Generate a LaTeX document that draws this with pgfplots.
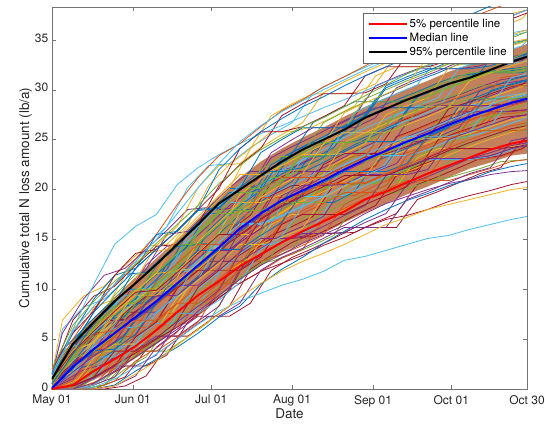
\documentclass[border=0pt]{standalone}
\usepackage{fontspec}
\setmainfont{TeX Gyre Heros}
\usepackage{pgfplots}
\pgfplotsset{compat=1.18}
\usepackage{pgfplotstable}

\definecolor{m1}{rgb}{0,0.447,0.741}
\definecolor{m2}{rgb}{0.85,0.325,0.098}
\definecolor{m3}{rgb}{0.929,0.694,0.125}
\definecolor{m4}{rgb}{0.494,0.184,0.556}
\definecolor{m5}{rgb}{0.466,0.674,0.188}
\definecolor{m6}{rgb}{0.301,0.745,0.933}
\definecolor{m7}{rgb}{0.635,0.078,0.184}
\definecolor{bandin}{rgb}{0.76,0.50,0.36}

% each row is one simulated run; columns are days after May 01
% rows dayL and dayR hold the sampling days used for the second set of runs
\pgfplotstableread{
name 0 8 16 24 32 40 48 56 64 72 80 88 96 104 112 120 128 136 144 152 160 168 176 182
dayL 0 4 12 20 28 36 44 52 60 68 76 84 92 100 108 116 124 132 140 148 156 164 172 182
dayR 0 12 20 28 36 44 52 60 68 76 84 92 100 108 116 124 132 140 148 156 164 172 180 182
l1 0.1 2.5 5.5 7.3 9.1 12.4 14.3 14.5 16.4 18.4 19.9 23.2 24.3 25.3 26.4 27.4 30.4 31.3 32.1 32.1 32.1 32.4 33.1 33.6
l2 0 0.8 3.6 5.2 5.3 6.8 10.2 12.0 13.8 17.7 19.2 19.2 19.5 20.5 20.5 20.6 21.5 22.4 25.2 26.1 26.9 27.6 27.6 27.9
l3 1.0 6.0 8.2 9.0 10.9 14.4 16.3 20.2 22.4 22.6 24.2 25.5 26.7 29.7 30.8 31.8 32.7 33.6 33.6 34.1 34.1 34.8 35.5 36.0
l4 0 0 0.4 1.2 3.9 5.3 5.3 6.8 8.3 12.0 13.4 14.7 15.6 15.6 15.7 16.7 17.6 20.5 21.3 22.2 23.1 23.7 24.4 24.7
l5 0.5 3.4 5.3 5.7 7.3 10.6 12.4 14.3 18.1 20.1 20.1 21.0 22.1 23.1 24.2 27.2 28.1 29.0 29.8 30.7 31.4 31.7 32.0 32.3
l6 0 0.3 1.0 3.6 5.1 6.6 6.6 8.2 11.7 13.6 15.0 18.3 19.3 19.3 19.4 20.4 21.3 22.2 23.0 23.0 23.0 23.3 24.0 24.6
l7 1.5 6.9 9.3 10.3 12.4 14.3 14.5 16.5 20.4 22.5 24.1 27.4 28.6 29.6 29.6 29.7 30.6 33.5 34.3 35.2 35.8 36.7 37.4 38.0
l8 0.1 1.9 2.5 3.9 6.9 8.5 12.0 13.9 13.9 15.8 17.3 18.6 21.7 22.7 23.8 24.8 24.8 24.8 25.3 26.2 29.0 29.8 30.5 30.9
l9 0 0 0 0.8 2.8 4.1 5.7 9.0 10.6 10.6 11.8 13.1 14.0 17.0 18.1 19.1 20.0 20.9 20.9 20.9 21.5 22.1 22.8 23.0
l10 1.0 3.8 4.7 7.9 9.8 11.6 11.8 13.7 15.6 19.5 21.1 22.4 23.5 23.5 23.6 24.6 27.5 28.4 29.2 32.2 32.8 33.7 34.4 34.9
l11 0.1 2.7 4.5 6.1 7.7 7.7 9.4 11.1 12.8 12.8 14.1 15.4 16.3 17.3 20.5 21.5 22.4 25.3 26.1 27.0 27.8 27.8 27.8 28.0
l12 0.5 3.2 6.3 8.3 8.7 10.4 12.2 15.9 17.9 18.0 19.5 20.8 23.9 24.9 26.0 29.1 30.0 30.9 31.7 32.6 32.6 32.9 33.1 33.8
l13 0 1.6 3.2 3.2 4.5 7.6 9.3 11.0 14.6 16.5 16.5 17.3 18.3 19.3 22.4 23.4 23.4 23.4 24.0 24.9 25.7 26.4 29.1 29.5
l14 0 0.3 1.1 2.3 5.2 6.7 10.1 11.9 11.9 13.7 17.1 18.4 19.4 22.5 23.6 23.6 23.6 24.3 25.1 28.1 28.8 29.6 30.3 30.7
l15 1.5 5.6 9.0 11.4 12.1 14.0 15.9 18.0 18.2 20.2 21.8 21.8 22.2 23.2 26.3 27.3 28.2 28.2 28.2 28.8 29.5 30.3 31.0 31.4
l16 0 0 0.4 2.5 3.8 3.8 5.2 6.7 10.1 11.9 13.3 16.6 17.6 18.6 19.7 19.7 19.7 20.4 21.2 24.2 25.0 25.7 26.4 26.7
l17 0.1 3.9 4.6 7.6 9.4 9.4 11.2 14.8 16.7 18.7 18.7 19.5 20.5 21.5 24.7 25.7 26.6 27.5 28.3 28.3 28.3 28.6 29.3 29.7
l18 0 0 1.1 2.3 2.3 3.4 6.7 8.3 9.9 13.7 15.1 15.1 15.3 16.3 17.4 18.4 21.4 22.3 23.1 23.1 23.1 23.4 24.1 24.4
l19 1.0 3.9 6.0 9.4 11.5 11.7 13.6 15.6 17.6 17.6 19.2 22.5 23.6 26.7 27.8 28.8 28.8 28.8 29.3 30.2 30.9 31.7 34.5 35.0
l20 1.5 6.0 10.5 14.5 16.3 17.5 20.5 22.2 23.5 24.6 25.6 26.4 27.3 28.2 29.0 29.9 30.8 31.6 32.4 33.3 34.0 34.8 35.4 35.8
l21 0 0.3 1.2 2.4 3.6 5.0 6.2 7.6 9.2 10.6 11.8 12.6 13.4 14.4 15.2 16.2 17.0 17.4 18.0 18.8 19.4 19.9 20.5 20.8
l22 0 0 0 0.4 1.8 3.0 4.2 5.6 7.2 8.3 10.5 12.0 13.2 14.6 15.8 17.0 18.0 18.9 19.6 20.4 21.0 21.8 22.3 22.6
l23 1.2 5.0 8.0 10.5 13.0 15.5 18.5 21.2 23.4 24.6 26.3 27.9 29.0 30.3 31.3 32.4 33.5 34.4 35.6 36.5 37.2 38.0 38.8 39.5
l24 0 0.3 3.1 4.5 4.5 5.8 9.2 10.9 12.6 14.5 14.5 15.2 16.1 19.2 20.3 21.3 24.2 25.1 25.1 25.1 25.6 26.3 27.0 27.3
l25 0.1 1.0 3.8 6.8 7.0 8.6 10.4 10.4 12.1 15.9 17.4 20.7 21.8 21.8 21.8 22.8 23.7 26.7 27.5 28.4 28.4 28.4 28.5 28.9
l26 0.5 4.7 6.8 7.4 9.2 12.5 14.4 14.6 16.5 18.5 22.0 23.3 23.3 23.4 24.5 25.5 26.4 29.3 30.1 31.0 31.7 31.7 31.7 31.9
l27 0 0 0.2 1.0 2.2 3.5 5.0 6.5 7.8 8.8 9.6 10.4 11.0 11.8 12.9 13.3 13.9 14.5 15.1 15.4 16.0 16.5 17.0 17.3
l28 2.0 5.6 7.8 11.4 13.6 14.0 15.9 18.0 20.1 24.1 25.8 25.8 26.3 27.3 28.4 31.4 32.3 32.3 32.3 32.9 33.5 36.4 37.1 37.7
l29 0.1 2.0 3.8 4.0 5.5 8.6 10.4 12.2 14.0 14.0 15.4 16.7 19.7 20.7 21.8 21.8 21.8 22.6 25.4 26.3 27.1 29.9 30.6 31.0
l30 0 0 0.4 2.0 3.2 6.1 7.8 9.4 11.0 12.8 12.8 13.5 14.4 15.4 18.5 19.5 20.4 23.4 24.2 25.1 25.9 25.9 25.9 26.0
l31 0.5 1.8 4.8 6.6 9.9 10.1 11.9 12.0 13.8 17.7 19.2 20.5 21.6 24.6 25.7 25.7 25.7 26.5 27.3 28.2 30.9 31.7 32.4 32.9
l32 0 0 0 0.3 1.3 4.2 5.8 7.3 7.3 8.6 11.9 13.2 14.1 15.1 16.2 16.2 16.2 19.0 19.8 20.7 21.6 22.2 24.9 25.2
l33 1.0 3.0 6.1 8.1 10.0 10.0 12.0 15.7 17.7 19.7 19.7 20.6 23.7 24.7 24.7 24.8 25.7 26.6 29.4 30.3 31.0 31.8 31.8 32.1
l34 0 1.7 4.5 6.1 6.2 7.7 9.4 12.9 14.7 16.6 16.6 17.4 18.4 21.4 22.5 23.5 24.4 25.3 25.3 25.3 25.8 28.5 29.2 29.6
l35 0 0.3 1.2 3.8 3.8 5.1 6.8 10.2 11.9 11.9 13.2 16.5 17.5 17.5 17.5 18.5 19.4 20.3 23.2 24.1 24.1 24.1 24.2 24.5
l36 1.5 4.4 7.7 9.9 12.0 15.5 15.8 17.9 18.1 20.1 23.7 25.0 26.2 26.2 26.2 27.2 30.2 31.1 31.9 32.8 32.8 32.8 32.9 33.4
l37 0.1 3.6 5.5 5.9 7.5 10.8 12.6 14.5 14.5 16.4 19.9 21.2 21.2 21.2 22.3 23.3 26.3 27.2 28.0 28.9 29.6 30.4 30.4 30.4
l38 1.0 3.8 5.9 7.9 9.8 11.6 15.2 17.3 19.4 21.5 21.5 22.4 23.5 24.5 27.7 28.7 29.6 30.5 33.3 34.2 34.8 34.8 34.8 35.1
l39 0 1.7 3.3 4.7 7.7 9.3 9.4 11.1 12.8 14.7 16.1 19.4 20.4 20.4 20.5 21.5 21.5 21.5 22.0 25.0 25.8 26.5 27.2 27.5
l40 0.5 3.1 3.8 5.4 8.6 10.3 10.4 12.2 15.9 17.9 17.9 18.7 18.7 18.7 19.8 22.8 23.7 24.6 25.4 28.4 29.1 29.1 29.1 29.3
l41 0 0 0.4 1.8 4.5 5.9 7.6 7.6 8.9 10.7 14.0 15.3 18.3 19.3 20.4 21.4 22.3 25.2 26.0 26.9 27.7 28.4 31.2 31.6
l42 1.0 3.7 5.8 7.8 9.7 9.9 11.7 13.6 15.5 15.5 17.0 18.3 19.3 20.3 21.4 21.4 21.4 22.2 23.0 23.9 24.7 25.4 26.1 26.4
l43 0.5 3.5 6.6 8.6 12.1 14.0 15.9 18.0 22.0 24.1 25.8 27.1 28.3 29.3 30.4 31.4 32.3 33.2 34.0 36.9 37.5 38.4 39.1 39.8
l44 0 0.3 2.5 5.3 6.9 6.9 8.6 8.6 10.1 13.9 17.3 18.6 19.6 20.6 20.6 20.7 21.6 22.5 23.3 24.2 27.0 27.7 28.4 28.8
l45 0 0 0 0.3 1.5 2.8 4.4 6.0 7.5 9.2 10.6 11.8 12.8 13.6 14.5 15.5 16.5 17.2 18.0 18.5 19.0 19.5 20.0 20.2
l46 0 0 0.6 1.8 3.2 4.6 6.0 7.8 9.4 11.0 12.4 13.5 14.6 15.5 16.4 17.6 18.6 19.3 20.0 20.6 21.0 21.5 21.8 21.9
l47 2.0 6.4 8.8 10.8 12.5 14.6 16.5 18.4 20.6 22.4 24.0 25.2 26.3 27.2 28.3 29.4 30.5 31.6 32.5 33.3 34.0 34.6 35.2 35.8
l48 1.2 5.8 8.3 10.5 12.8 15.0 17.6 20.2 22.6 24.8 26.4 27.8 28.9 30.0 31.0 32.0 32.9 33.6 34.4 35.0 35.8 36.6 37.4 38.0
}\spagraw
\pgfplotstabletranspose[colnames from=name]\spag{\spagraw}

% percentile lines
\pgfplotstableread{
d p5 med p95
0 0 0.1 1.0
8 0.4 2.2 4.5
16 1.8 4.0 6.7
24 3.0 5.6 8.8
32 4.3 7.2 10.6
40 5.9 8.8 12.5
48 7.7 10.6 14.5
56 9.4 12.4 16.5
64 10.8 14.2 18.6
72 12.3 16.1 20.0
80 13.5 17.6 21.4
88 14.7 18.9 22.8
96 15.8 19.9 24.0
104 16.8 20.9 25.0
112 17.8 22.0 26.0
120 19.0 23.0 27.2
128 19.8 23.9 28.1
136 20.7 24.8 29.0
144 21.6 25.6 29.8
152 22.4 26.5 30.6
160 23.2 27.3 31.2
168 24.0 28.0 32.0
176 24.6 28.7 32.8
182 24.9 29.1 33.3
}\pct

\begin{document}
\begin{tikzpicture}
\useasboundingbox (-52pt,-35pt) rectangle (493pt,389pt);
\begin{axis}[
  at={(0pt,0pt)}, anchor=south west,
  scale only axis, width=475pt, height=382pt,
  xmin=0, xmax=182, ymin=0, ymax=38.3,
  xtick={0,31,61,92,123,153,182},
  xticklabels={May 01,Jun 01,Jul 01,Aug 01,Sep 01,Oct 01,Oct 30},
  ytick={0,5,...,35},
  tick align=inside, major tick length=4pt,
  axis line style={black!55},
  every tick/.style={black!55, line width=0.5pt},
  /pgf/number format/assume math mode=true,
  ticklabel style={font=\fontsize{12}{14}\selectfont, text=black!85, inner sep=1.5pt},
  xticklabel style={yshift=-4.5pt},
  yticklabel style={xshift=-2pt, yshift=2pt},
  xlabel={Date},
  ylabel={Cumulative total N loss amount (lb/a)},
  label style={font=\fontsize{13.5}{15}\selectfont, text=black!85},
  xlabel style={yshift=3pt},
  ylabel style={yshift=-2pt},
  legend style={at={(rel axis cs:0.9705,0.984)}, anchor=north east,
    draw=black!60, fill=white, inner xsep=4pt, inner ysep=4pt,
    font=\fontsize{11.5}{12.5}\selectfont, cells={anchor=west}, row sep=0pt},
  legend image code/.code={\draw[#1] (0pt,0pt) -- (38pt,0pt);},
]
% dense core of the runs
\addplot[fill=bandin, draw=none, forget plot] coordinates {
(0,0.9) (8,4.9) (16,7.1) (24,9.2) (32,11.2) (40,13.1) (48,15.0) (56,17.1) (64,19.1) (72,21.2) (80,22.8) (88,24.1) (96,25.2) (104,26.2) (112,27.3) (120,28.3) (128,29.2) (136,30.1) (144,30.9) (152,31.8) (160,32.5) (168,33.3) (176,34.0) (182,34.6)
(182,23.6) (176,23.4) (168,22.7) (160,22.1) (152,21.2) (144,20.3) (136,19.5) (128,18.6) (120,17.7) (112,16.7) (104,15.6) (96,14.6) (88,13.7) (80,12.4) (72,11.0) (64,9.3) (56,7.7) (48,6.2) (40,4.5) (32,3.2) (24,2.0) (16,0.9) (8,0) (0,0)};

% second set of runs (sampled on shifted days)
\pgfplotsinvokeforeach{1,2,3,4,5,6,7,8,9,10,11,12,13,14,15,16,17,18,19,24,25,26,28,29,30,31,32,33,34,35,36,37,38,39,40,41,42,44}{%
  \pgfmathtruncatemacro\mycol{mod(#1+2,7)+1}%
  \ifodd#1 \def\myx{dayL}\else\def\myx{dayR}\fi
  \edef\tmp{\noexpand\addplot[draw=m\mycol, line width=0.8pt, forget plot] table[x=\myx, y=l#1] {\noexpand\spag};}%
  \tmp
}
% first set of runs
\pgfplotsinvokeforeach{1,...,48}{%
  \pgfmathtruncatemacro\mycol{mod(#1-1,7)+1}%
  \edef\tmp{\noexpand\addplot[draw=m\mycol, line width=0.8pt, forget plot] table[x=colnames, y=l#1] {\noexpand\spag};}%
  \tmp
}

\addplot[red, line width=2pt] table[x=d, y=p5] {\pct};
\addlegendentry{5\% percentile line}
\addplot[blue, line width=2pt] table[x=d, y=med] {\pct};
\addlegendentry{Median line}
\addplot[black, line width=2pt] table[x=d, y=p95] {\pct};
\addlegendentry{95\% percentile line}
\end{axis}
\end{tikzpicture}
\end{document}
